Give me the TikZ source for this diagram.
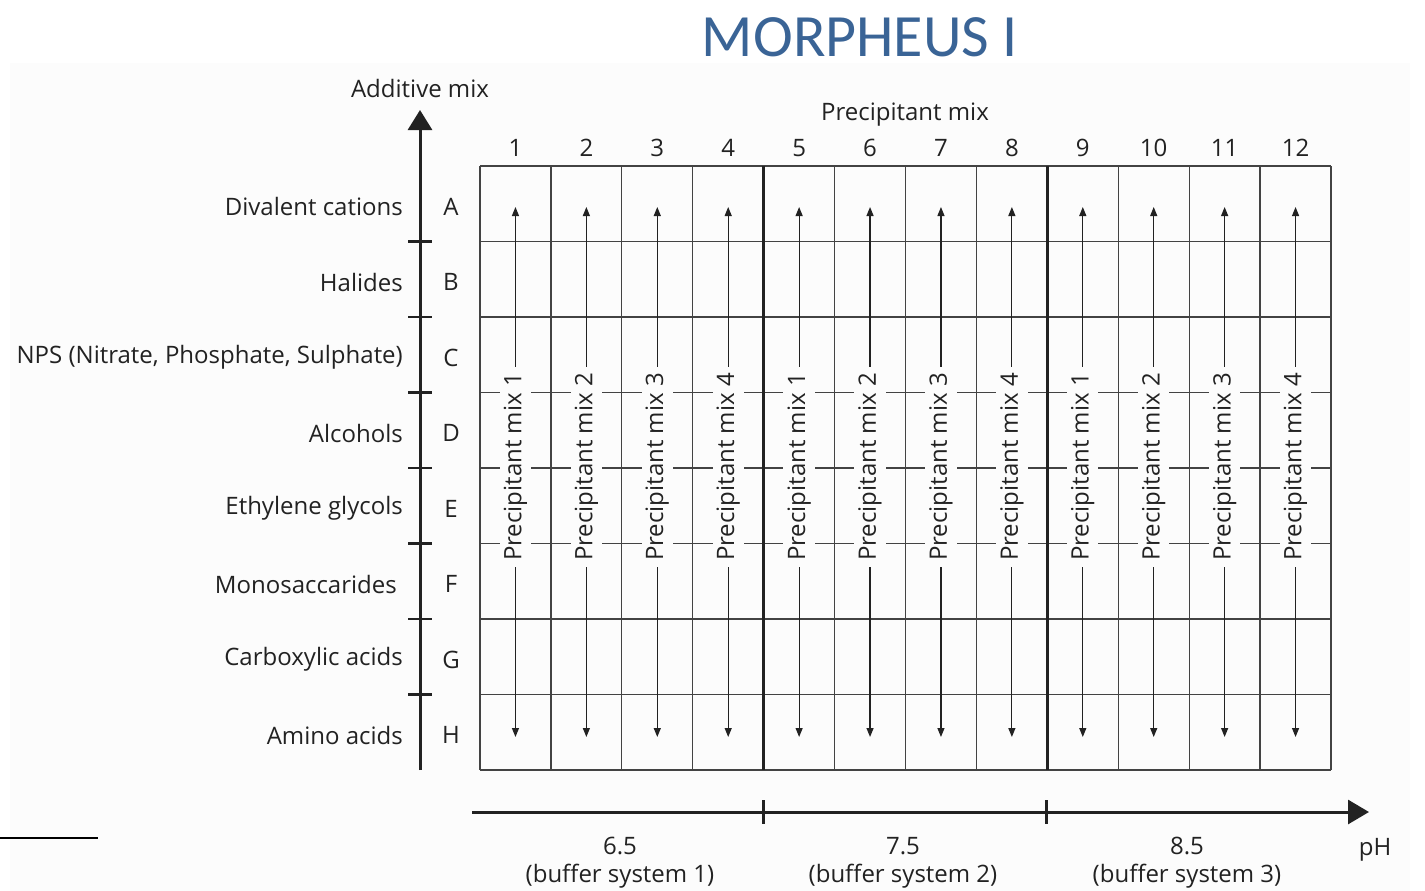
\documentclass[tikz,border=0pt]{standalone}
\usepackage{fontspec}
\setmainfont{Open Sans}
\newfontfamily\titlefont{Carlito}
\usetikzlibrary{arrows.meta}
\definecolor{bgc}{HTML}{FCFCFC}
\definecolor{titleblue}{HTML}{3A6496}
\definecolor{ink}{HTML}{222222}
\begin{document}
\begin{tikzpicture}[x=1pt,y=-1pt,
  txt/.style={font=\fontsize{24}{28}\selectfont, text=ink, inner sep=0pt},
  gridline/.style={line width=1.3pt, draw=ink!85},
  divider/.style={line width=3.2pt, draw=ink},
  axisline/.style={line width=3pt, draw=ink},
  colarrow/.style={line width=1.2pt, draw=ink, {Triangle[length=9pt,width=7pt]}-{Triangle[length=9pt,width=7pt]}},
  pmlabel/.style={txt, rotate=90, fill=bgc, inner xsep=6pt, inner ysep=4pt}
]
\useasboundingbox (0,0) rectangle (1425,891);
\fill[white] (0,0) rectangle (1425,891);
\fill[bgc] (10,63) rectangle (1410,891);

% title
\node[font=\titlefont\fontsize{60}{64}\selectfont, text=titleblue, inner sep=0pt] (title) at (860,37) {MORPHEUS I};

% grid
\foreach \i in {0,...,8} {
  \draw[gridline] (480,{166+75.5*\i}) -- (1331,{166+75.5*\i});
}
\foreach \j in {0,...,12} {
  \draw[gridline] ({480+70.9167*\j},166) -- ({480+70.9167*\j},770);
}
\draw[divider] (763.7,166) -- (763.7,770);
\draw[divider] (1047.3,166) -- (1047.3,770);

% column headers, arrows and labels
\foreach \j in {1,...,12} {
  \pgfmathsetmacro{\cx}{480+70.9167*(\j-0.5)}
  \pgfmathtruncatemacro{\m}{mod(\j-1,4)+1}
  \node[txt] (num\j) at (\cx,148) {\j};
  \coordinate (top\j) at (\cx,207);
  \coordinate (bot\j) at (\cx,737);
  \draw[colarrow] (top\j) -- (bot\j);
  \node[pmlabel] (pm\j) at (\cx,467) {Precipitant mix \m};
}

\node[txt] (pmix) at (905,115) {Precipitant mix};

% vertical axis
\coordinate (vbot) at (420,770);
\coordinate (vtop) at (420,110);
\draw[axisline, -{Triangle[length=20pt,width=24pt]}] (vbot) -- (vtop);
\node[txt] (addmix) at (420,88) {Additive mix};
\foreach \i in {1,...,7} {
  \coordinate (tl\i) at (408,{166+75.5*\i});
  \coordinate (tr\i) at (432,{166+75.5*\i});
  \draw[line width=2.2pt, draw=ink] (tl\i) -- (tr\i);
}

% row labels
\foreach \lab/\nm/\rx [count=\i from 0] in {A/Divalent cations/403, B/Halides/403, C/{NPS (Nitrate, Phosphate, Sulphate)}/403, D/Alcohols/403, E/Ethylene glycols/403, F/Monosaccarides/397, G/Carboxylic acids/403, H/Amino acids/403} {
  \node[txt] (let\lab) at (451,{166+75.5*(\i+0.5)+3}) {\lab};
  \node[txt, anchor=east] (row\lab) at (\rx,{166+75.5*(\i+0.5)+3}) {\nm};
}

% pH axis
\coordinate (hstart) at (472,812);
\coordinate (hend) at (1369,812);
\draw[axisline, -{Triangle[length=21pt,width=24pt]}] (hstart) -- (hend);
\coordinate (t1a) at (763,800); \coordinate (t1b) at (763,824);
\coordinate (t2a) at (1046,800); \coordinate (t2b) at (1046,824);
\draw[axisline] (t1a) -- (t1b);
\draw[axisline] (t2a) -- (t2b);
\node[txt] (ph1) at (620,846) {6.5};
\node[txt] (bs1) at (620,876) {(buffer system 1)};
\node[txt] (ph2) at (903,846) {7.5};
\node[txt] (bs2) at (903,876) {(buffer system 2)};
\node[txt] (ph3) at (1187,846) {8.5};
\node[txt] (bs3) at (1187,876) {(buffer system 3)};
\node[txt] (phlab) at (1375,850) {pH};

% stray line bottom-left
\coordinate (sl1) at (0,838);
\coordinate (sl2) at (98,838);
\draw[line width=2.6pt, draw=black] (sl1) -- (sl2);
\end{tikzpicture}
\end{document}
